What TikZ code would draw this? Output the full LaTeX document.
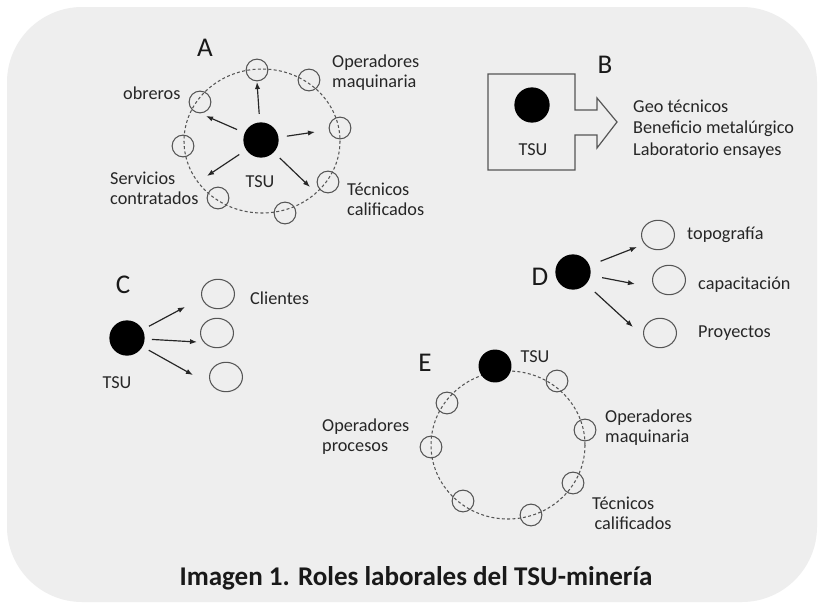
\documentclass[tikz,border=0pt]{standalone}
\usepackage{fontspec}
\setmainfont{Carlito}
\usetikzlibrary{arrows.meta,shapes.geometric}

\definecolor{panel}{HTML}{EEEEEE}
\definecolor{ink}{HTML}{555555}

\tikzset{
  dot/.style={circle,fill=black,inner sep=0pt,minimum size=30pt},
  ring/.style={circle,draw=ink,line width=0.9pt,inner sep=0pt,minimum size=18.5pt},
  oval/.style={ellipse,draw=ink,line width=0.9pt,inner sep=0pt,minimum width=28pt,minimum height=25pt},
  orbit/.style={draw=ink,line width=0.9pt,dash pattern=on 2.5pt off 2pt},
  arr/.style={-{Latex[length=6pt,width=4.5pt]},line width=1pt,draw=black!85,shorten <=6pt},
  lbl/.style={font=\fontsize{15.5}{17}\selectfont,text=black!85,align=left,inner sep=0pt},
  tag/.style={font=\fontsize{23}{23}\selectfont,text=black!90,inner sep=0pt}
}

\begin{document}
\begin{tikzpicture}[x=0.85pt,y=-0.85pt]
\useasboundingbox (0,0) rectangle (823,609);
\fill[white] (0,0) rectangle (823,609);
\fill[panel,rounded corners=64pt] (7,7) rectangle (817,602);

% A
\begin{scope}
\node[tag] (tagA) at (205,48) {A};
\draw[orbit] (262,141) ellipse [x radius=78,y radius=72];
\foreach \n/\x/\y in {1/257/70,2/309/80,3/340/128,4/328/182,5/285/213,6/218/198,7/183/146,8/200/102}
  \node[ring] (a\n) at (\x,\y) {};
\node[dot] (tsuA) at (261,140) {};
\node[lbl] (tsuAl) at (260,182) {TSU};
\foreach \n/\x/\y in {1/257/82,2/206/116,3/315/132,4/310/187,5/207/176}
  \coordinate (ea\n) at (\x,\y);
\foreach \n in {1,...,5}
  \draw[arr,shorten <=7pt] (tsuA) -- (ea\n);
\node[lbl,anchor=west] (opA) at (332,73) {Operadores\\maquinaria};
\node[lbl,anchor=west] (obA) at (123,93) {obreros};
\node[lbl,anchor=west] (svA) at (110,188) {Servicios\\contratados};
\node[lbl,anchor=west] (tcA) at (347,199) {Técnicos\\calificados};
\end{scope}

% B
\begin{scope}
\node[tag] (tagB) at (605,65) {B};
\draw[ink,line width=1pt,line join=miter] (575,110) -- (575,74) -- (488,74) -- (488,170) -- (575,170)
  -- (575,135) -- (597,135) -- (597,148) -- (617,122) -- (597,98) -- (597,110) -- cycle;
\node[dot] (tsuB) at (532,105) {};
\node[lbl] (tsuBl) at (533,150) {TSU};
\node[lbl,anchor=west,font=\fontsize{15.5}{18.5}\selectfont] (listB) at (633,129)
  {Geo técnicos\\Beneficio metalúrgico\\Laboratorio ensayes};
\end{scope}

% C
\begin{scope}
\node[tag] (tagC) at (123,285) {C};
\node[dot] (tsuC) at (127,338) {};
\node[lbl] (tsuCl) at (117,383) {TSU};
\foreach \n/\x/\y in {1/218/294,2/217/333,3/226/377}
  \node[oval] (c\n) at (\x,\y) {};
\foreach \n/\x/\y in {1/185/307,2/197/342,3/193/375}
  \coordinate (ec\n) at (\x,\y);
\foreach \n in {1,2,3}
  \draw[arr] (tsuC) -- (ec\n);
\node[lbl,anchor=west] (clC) at (250,298) {Clientes};
\end{scope}

% D
\begin{scope}
\node[tag] (tagD) at (540,277) {D};
\node[dot] (tsuD) at (573,272) {};
\foreach \n/\x/\y in {1/658/235,2/669/280,3/660/333}
  \node[oval] (d\n) at (\x,\y) {};
\foreach \n/\x/\y in {1/637/247,2/635/284,3/633/327}
  \coordinate (ed\n) at (\x,\y);
\foreach \n in {1,2,3}
  \draw[arr,shorten <=10pt] (tsuD) -- (ed\n);
\node[lbl,anchor=west] (tpD) at (687,235) {topografía};
\node[lbl,anchor=west] (caD) at (698,285) {capacitación};
\node[lbl,anchor=west] (prD) at (698,333) {Proyectos};
\end{scope}

% E
\begin{scope}
\node[tag] (tagE) at (425,363) {E};
\draw[orbit] (508,445) ellipse [x radius=77,y radius=74];
\foreach \n/\x/\y in {1/557/381,2/585/430,3/573/483,4/531/515,5/463/501,6/431/447,7/447/403}
  \node[ring] (e\n) at (\x,\y) {};
\node[dot,minimum size=28pt] (tsuE) at (495,366) {};
\node[lbl] (tsuEl) at (535,357) {TSU};
\node[lbl,anchor=west] (opE) at (322,437) {Operadores\\procesos};
\node[lbl,anchor=west] (omE) at (605,428) {Operadores\\maquinaria};
\node[lbl,anchor=west] (tcE) at (592,513) {Técnicos\\\hspace{2pt}calificados};
\end{scope}

\node[font=\bfseries\fontsize{23}{23}\selectfont,text=black!90] (title) at (416,578)
  {Imagen 1. Roles laborales del TSU-minería};
\end{tikzpicture}
\end{document}
